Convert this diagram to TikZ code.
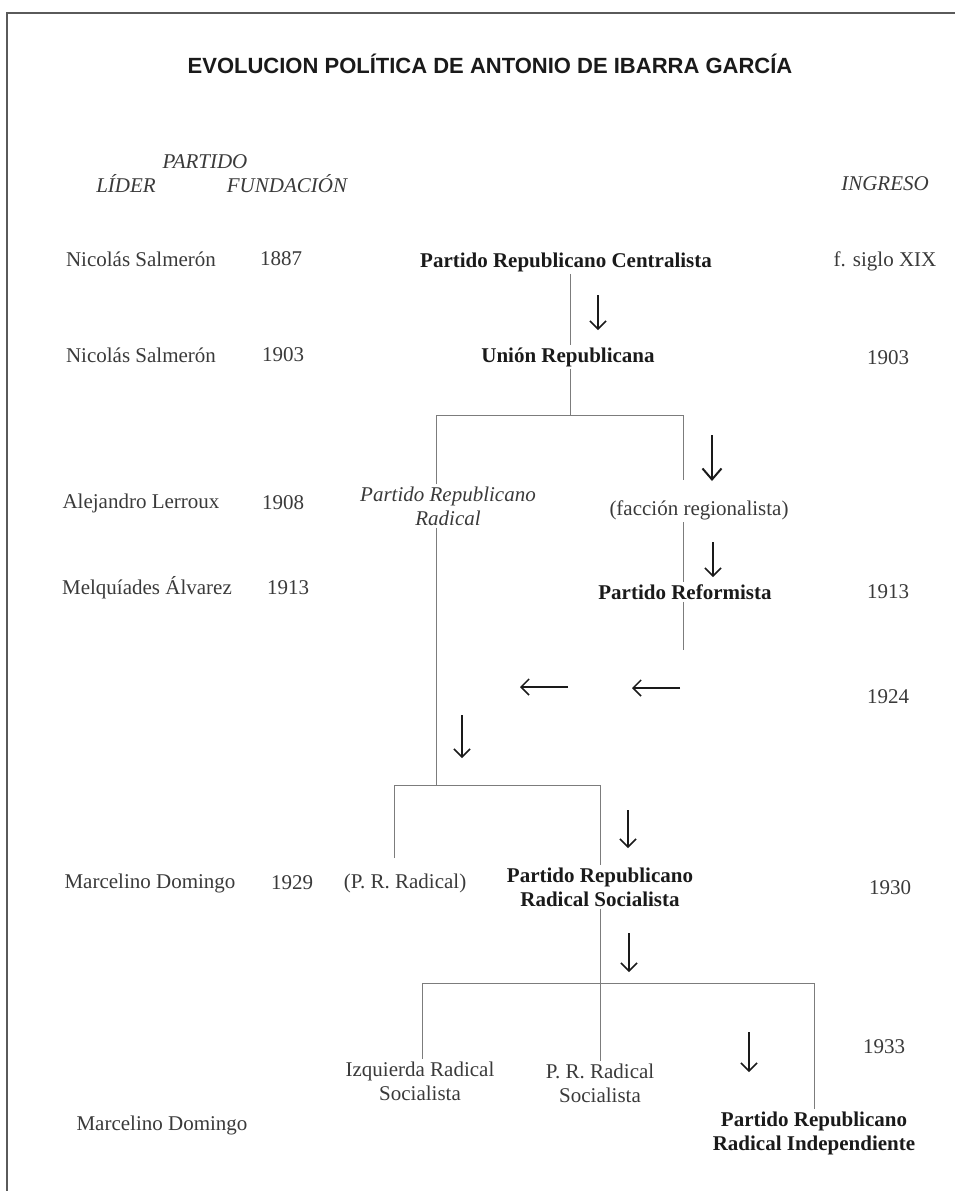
\documentclass[tikz,border=0pt]{standalone}
\usepackage{fontspec}
\setmainfont{Liberation Serif}
\newfontfamily\titlefont{Liberation Sans}
\usetikzlibrary{arrows.meta}
\definecolor{ink}{HTML}{1A1A1A}
\definecolor{soft}{HTML}{3A3A3A}
\definecolor{rule}{HTML}{7C7C7C}
\definecolor{edge}{HTML}{5A5A5A}
\tikzset{
  txt/.style={font=\fontsize{10.5}{12}\selectfont,text=soft,align=center,inner sep=1pt},
  party/.style={txt,font=\fontsize{10.5}{12}\selectfont\bfseries,text=ink},
  headtxt/.style={txt,font=\fontsize{10.5}{12}\selectfont\itshape},
  tree/.style={line width=0.5pt,draw=rule},
  down/.style={-{Straight Barb[length=4pt,width=8pt]},line width=0.75pt,draw=ink},
  bigdown/.style={-{Straight Barb[length=5.5pt,width=9.5pt]},line width=1pt,draw=ink}
}

\begin{document}
\begin{tikzpicture}[x=0.5pt,y=-0.5pt]
  \useasboundingbox (0,0) rectangle (955,1191);

  % page frame
  \coordinate (fbl) at (7,1191);
  \coordinate (ftl) at (7,13);
  \coordinate (ftr) at (955,13);
  \draw[line width=0.7pt,draw=edge] (fbl) -- (ftl) -- (ftr);

  \node[font=\titlefont\bfseries\fontsize{11}{13}\selectfont,text=ink] (title) at (490,64)
    {EVOLUCION POLÍTICA DE ANTONIO DE IBARRA GARCÍA};

  % column heads
  \node[headtxt] (hpart) at (205,162) {PARTIDO};
  \node[headtxt] (hlid) at (126,184) {LÍDER};
  \node[headtxt] (hfun) at (287,184) {FUNDACIÓN};
  \node[headtxt] (hing) at (885,184) {INGRESO};

  % leaders and years
  \node[txt] (lid1) at (141,259) {Nicolás Salmerón};
  \node[txt] (fun1) at (281,259) {1887};
  \node[txt] (lid2) at (141,355) {Nicolás Salmerón};
  \node[txt] (fun2) at (283,355) {1903};
  \node[txt] (lid3) at (141,503) {Alejandro Lerroux};
  \node[txt] (fun3) at (283,503) {1908};
  \node[txt] (lid4) at (147,588) {Melquíades Álvarez};
  \node[txt] (fun4) at (288,588) {1913};
  \node[txt] (lid5) at (150,883) {Marcelino Domingo};
  \node[txt] (fun5) at (292,883) {1929};
  \node[txt] (lid6) at (162,1125) {Marcelino Domingo};

  \node[txt] (ing1) at (885,261) {f. siglo XIX};
  \node[txt] (ing2) at (888,358) {1903};
  \node[txt] (ing3) at (888,592) {1913};
  \node[txt] (ing4) at (888,697) {1924};
  \node[txt] (ing5) at (890,888) {1930};
  \node[txt] (ing6) at (884,1047) {1933};

  % parties
  \node[party] (prc) at (566,262) {Partido Republicano Centralista};
  \node[party] (ur) at (568,357) {Unión Republicana};
  \node[headtxt] (prr) at (448,506) {Partido Republicano\\Radical};
  \node[txt] (fac) at (699,510) {(facción regionalista)};
  \node[party] (ref) at (685,592) {Partido Reformista};
  \node[txt] (prr2) at (405,883) {(P. R. Radical)};
  \node[party] (prrs) at (600,887) {Partido Republicano\\Radical Socialista};
  \node[txt] (irs) at (420,1081) {Izquierda Radical\\Socialista};
  \node[txt] (prs) at (600,1083) {P. R. Radical\\Socialista};
  \node[party] (prri) at (814,1133) {Partido Republicano\\Radical Independiente};

  % branching
  \coordinate (b1) at (570,415);
  \coordinate (b1l) at (436,415);
  \coordinate (b1r) at (683,415);
  \coordinate (b2) at (436,785);
  \coordinate (b2l) at (394,785);
  \coordinate (b2r) at (600,785);
  \coordinate (b3l) at (422,983);
  \coordinate (b3r) at (814,983);

  \draw[tree] (prc.south -| b1) -- (ur.north -| b1);
  \draw[tree] (ur.south -| b1) -- (b1);
  \draw[tree] (prr.north -| b1l) -- (b1l) -- (b1r) -- ++(0,65);
  \draw[tree] (fac.south -| b1r) -- (ref.north -| b1r);
  \draw[tree] (ref.south -| b1r) -- ++(0,48);
  \draw[tree] (prr.south -| b2) -- (b2);
  \draw[tree] (b2l) ++(0,73) -- (b2l) -- (b2r) -- (prrs.north -| b2r);
  \draw[tree] (prrs) -- (prs);
  \draw[tree] (irs.north -| b3l) -- (b3l) -- (b3r) -- (prri.north -| b3r);

  % arrows
  \foreach \n/\x/\y/\l in {1/598/295/35,3/713/542/35,6/462/715/43,7/628/810/38,8/629/933/39,9/749/1032/40} {
    \coordinate (a\n s) at (\x,\y);
    \coordinate (a\n e) at (\x,\y+\l);
    \draw[down] (a\n s) -- (a\n e);
  }
  \coordinate (a2s) at (712,435);
  \coordinate (a2e) at (712,481);
  \draw[bigdown] (a2s) -- (a2e);
  \foreach \n/\x/\y in {4/680/688,5/568/687} {
    \coordinate (a\n s) at (\x,\y);
    \coordinate (a\n e) at (\x-48,\y);
    \draw[down] (a\n s) -- (a\n e);
  }
\end{tikzpicture}
\end{document}
